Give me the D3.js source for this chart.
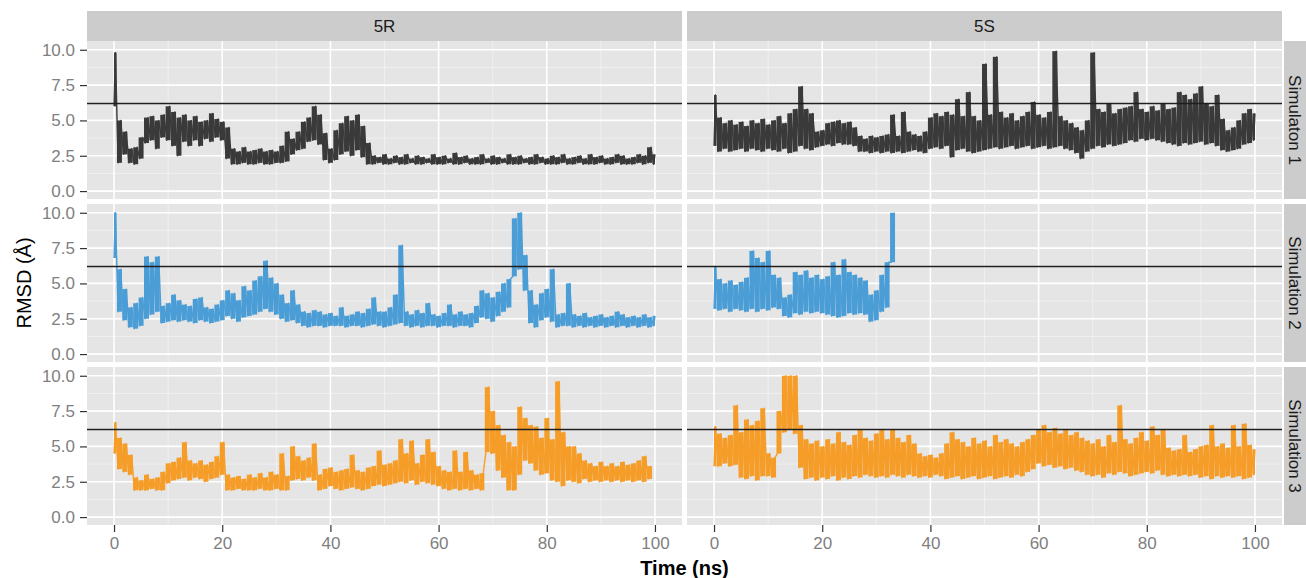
<!DOCTYPE html>
<html>
<head>
<meta charset="utf-8">
<script src="https://cdn.jsdelivr.net/npm/d3@7"></script>
<style>
  body { margin: 0; background: #fff; }
  text { font-family: "Liberation Sans", Arial, sans-serif; }
</style>
</head>
<body>
<script>
// facet labels and axis ticks
var models = ["5R", "5S"];
var sims = ["Simulaton 1", "Simulation 2", "Simulation 3"];
var simColors = ["#3a3a3a", "#4b9dd6", "#f59d28"];
var timeTicks = [0, 20, 40, 60, 80, 100];
var timeMinor = [10, 30, 50, 70, 90];
var rmsdTicks = [0, 2.5, 5, 7.5, 10];
var rmsdMinor = [1.25, 3.75, 6.25, 8.75];
var cutoff = 6.2;

// RMSD: low and high of the trace in each 1 ns step
var r1Lo = [6.0,2.0,2.6,2.0,1.9,2.3,3.4,3.6,3.0,3.8,3.6,3.2,2.5,3.5,3.2,3.6,3.2,3.7,3.5,3.8,3.6,2.3,1.9,1.9,2.0,1.9,1.9,2.0,1.9,1.9,2.0,2.0,2.1,2.6,2.9,3.0,3.5,3.6,3.3,2.2,2.0,2.2,2.6,2.8,2.5,2.9,2.4,1.9,1.9,2.0,1.9,1.9,2.0,1.9,1.9,2.0,1.9,1.9,2.0,1.9,1.9,1.9,2.0,1.9,1.9,2.0,1.9,1.9,1.9,2.0,1.9,1.9,2.0,1.9,1.9,1.9,2.0,1.9,1.9,2.0,1.9,1.9,1.9,2.0,1.9,1.9,2.0,1.9,1.9,1.9,2.0,1.9,1.9,2.0,1.9,1.9,1.9,2.0,1.9,2.0,1.9];
var r1Hi = [9.8,5.0,4.2,3.0,3.1,3.8,5.2,5.3,5.0,5.4,6.0,5.6,5.2,5.4,5.0,5.3,4.9,5.0,5.5,5.1,4.9,4.5,3.0,2.8,3.1,2.8,2.9,3.0,2.8,2.9,2.8,3.2,4.2,3.7,4.2,4.9,5.2,6.0,5.4,4.1,3.0,4.3,4.8,5.3,5.0,5.4,4.6,3.4,2.5,2.4,2.6,2.3,2.5,2.4,2.6,2.3,2.5,2.4,2.3,2.6,2.4,2.5,2.3,2.7,2.4,2.5,2.3,2.4,2.6,2.3,2.5,2.4,2.3,2.6,2.4,2.5,2.3,2.4,2.6,2.4,2.3,2.5,2.4,2.6,2.3,2.4,2.5,2.3,2.6,2.4,2.5,2.3,2.4,2.6,2.5,2.3,2.4,2.6,2.5,3.1,2.6];
var r2Lo = [6.8,3.0,2.4,1.9,1.8,2.0,2.5,2.8,3.0,2.2,2.3,2.4,2.3,2.4,2.3,2.2,2.4,2.3,2.2,2.3,2.4,2.7,2.5,2.3,2.6,2.7,2.8,3.0,3.2,3.0,2.8,2.5,2.3,2.4,2.2,2.0,1.9,2.0,2.0,1.9,2.0,2.0,2.0,1.9,2.0,2.0,1.9,2.0,2.1,2.0,1.9,2.0,2.1,2.2,2.0,1.9,2.0,1.9,2.0,2.0,1.9,2.0,2.0,1.9,2.0,2.0,1.9,2.2,2.6,2.5,2.3,2.7,3.0,3.3,5.5,6.0,4.5,2.2,1.9,2.4,2.6,2.3,1.9,2.0,2.0,1.9,2.0,1.9,2.0,1.9,2.0,1.9,2.0,1.9,2.0,1.9,2.0,1.9,2.0,1.9,2.0];
var r2Hi = [10.0,6.0,4.6,3.3,3.6,4.0,6.9,6.5,6.9,3.4,3.6,4.2,3.8,3.5,3.4,3.9,4.0,3.3,3.2,3.5,3.8,4.5,4.3,3.8,4.8,4.5,5.2,5.5,6.6,5.4,5.0,4.2,3.6,4.5,3.5,3.0,2.9,3.1,3.0,2.8,2.9,2.7,3.3,2.7,2.8,3.0,2.9,3.2,4.0,3.0,3.0,3.3,4.2,7.7,3.0,2.8,3.1,2.9,3.6,2.8,2.7,2.9,3.5,2.8,3.0,2.8,2.9,3.4,4.5,4.3,4.0,4.4,5.0,5.3,9.6,10.0,7.0,4.5,3.5,4.3,4.6,6.0,2.8,2.9,5.0,2.8,2.7,2.9,2.6,2.7,2.8,2.6,2.7,3.0,2.8,2.6,2.7,2.6,2.8,2.6,2.7];
var r3Lo = [4.5,3.4,3.2,3.0,1.9,1.9,1.9,2.0,1.9,1.9,2.4,2.6,2.7,2.8,2.6,2.8,2.7,2.5,2.7,2.8,3.0,1.9,1.9,2.0,1.9,1.9,1.9,2.0,1.9,1.9,2.0,1.9,1.9,2.6,2.7,2.6,2.8,2.6,1.9,2.0,2.2,2.0,1.9,2.0,2.1,2.0,1.9,2.0,2.2,2.3,2.2,2.3,2.4,2.5,2.4,2.6,2.3,2.5,2.4,2.3,2.2,2.0,1.9,2.0,1.9,2.0,1.9,2.0,1.9,4.6,4.5,3.3,2.8,1.9,1.9,3.0,4.0,3.8,3.3,3.0,3.1,2.6,2.5,2.2,2.6,2.5,2.4,2.7,2.5,2.6,2.5,2.6,2.5,2.6,2.5,2.6,2.5,2.6,2.5,2.7];
var r3Hi = [6.7,5.6,5.2,4.4,2.8,2.6,3.0,2.7,2.8,3.2,3.8,3.9,4.2,5.3,4.0,3.8,4.0,3.7,3.9,4.3,5.3,3.0,2.8,2.9,2.7,3.0,2.8,3.1,2.8,3.2,3.0,4.5,2.9,5.0,4.3,4.0,4.2,5.2,3.0,3.4,3.5,3.2,3.3,3.4,4.4,3.3,3.2,3.5,3.6,4.7,3.7,3.8,4.0,5.5,4.5,5.4,3.8,4.4,5.5,4.6,3.6,3.3,3.2,4.7,3.2,4.6,3.3,3.0,3.1,9.2,7.5,6.5,5.8,5.3,5.0,7.8,7.0,6.5,6.4,5.6,7.0,5.5,9.6,6.0,5.0,5.0,4.5,4.0,3.8,3.6,3.9,3.6,3.8,3.6,3.9,3.7,3.8,4.0,4.3,3.6];
var s1Lo = [3.2,2.8,3.0,2.8,2.9,3.0,2.8,3.0,2.9,2.8,3.0,2.9,2.8,3.0,2.7,2.8,3.2,3.0,2.9,3.1,3.2,3.3,3.2,3.4,3.3,3.3,3.2,2.8,2.8,2.7,2.8,2.7,2.8,2.7,2.8,2.7,2.8,2.9,2.8,2.7,3.0,3.1,3.0,3.2,2.4,2.9,3.0,2.8,2.7,2.8,2.9,3.0,3.1,3.0,3.1,3.2,3.0,3.1,3.2,3.0,3.1,3.2,3.0,3.1,3.2,3.0,2.9,2.7,2.3,2.8,3.0,3.2,3.1,3.3,3.2,3.3,3.4,3.6,3.5,3.7,3.6,3.7,3.6,3.5,3.4,3.3,3.2,3.4,3.3,3.4,3.5,3.3,3.4,3.2,2.9,2.8,2.9,3.0,3.3,3.4,3.6];
var s1Hi = [6.8,5.2,4.8,5.0,4.7,4.9,4.6,5.0,4.8,5.1,4.7,5.0,5.3,4.8,5.5,5.8,7.4,5.8,5.5,4.2,4.3,4.8,4.9,5.0,4.8,4.9,4.5,3.9,3.7,3.9,3.8,3.9,4.0,5.4,3.9,5.6,4.2,4.0,3.9,4.2,5.2,5.5,5.3,5.6,5.4,6.5,5.3,7.0,5.3,5.0,9.0,5.4,9.5,5.6,5.2,5.5,5.0,5.3,5.6,6.3,5.4,5.2,5.6,9.9,5.3,5.0,4.8,4.5,4.3,5.0,9.8,5.8,5.6,6.2,5.5,5.8,5.9,6.0,7.0,5.8,5.6,6.0,5.7,6.2,5.8,5.9,7.0,6.8,6.5,6.9,7.4,6.2,6.0,6.8,5.1,4.3,4.5,5.0,5.5,5.8,5.5];
var s2Lo = [3.2,3.1,3.2,3.0,3.2,3.1,3.0,3.2,3.0,3.2,3.1,3.3,3.2,2.7,2.6,2.9,2.8,3.0,2.9,3.0,2.9,2.8,2.7,2.6,2.7,2.9,2.8,2.9,2.8,2.3,2.4,3.0,3.3,6.5];
var s2Hi = [6.2,5.3,5.0,5.2,4.9,5.1,5.4,7.3,6.8,6.5,7.3,5.6,5.4,4.0,4.2,5.8,5.6,5.9,5.4,5.6,5.3,5.5,6.5,5.6,6.7,5.8,5.6,5.4,5.2,4.2,4.5,5.6,6.5,10.0];
var s3Lo = [3.6,3.6,3.8,3.6,3.7,2.8,2.7,2.9,2.6,2.9,2.9,2.8,4.5,6.0,6.2,5.9,3.5,2.7,2.8,2.6,2.8,2.7,2.9,2.6,2.8,2.7,2.9,2.8,3.0,2.9,2.8,2.9,2.8,3.0,2.9,2.8,3.0,2.9,2.8,2.9,2.8,3.0,2.9,2.7,2.8,2.9,2.7,2.8,2.9,2.7,2.8,2.9,2.7,2.8,2.9,2.8,3.0,2.9,3.2,3.4,3.8,3.6,3.7,3.5,3.6,3.4,3.5,3.3,3.2,3.0,2.9,3.0,2.8,3.1,3.0,3.2,3.1,2.9,3.0,3.1,3.2,3.1,3.3,3.0,2.9,3.0,2.9,3.0,2.9,3.0,2.8,2.9,2.7,2.9,2.8,2.9,2.8,2.9,2.7,2.8,3.0];
var s3Hi = [6.4,5.9,5.6,5.8,7.9,6.0,6.9,6.5,6.8,7.7,4.5,4.2,7.5,10.0,10.0,10.0,6.5,5.5,5.2,5.4,5.0,5.5,5.2,6.0,5.3,5.1,5.8,6.2,5.6,5.4,5.9,6.2,5.5,6.2,5.6,5.3,5.8,5.2,4.5,4.3,4.4,4.2,4.5,5.2,6.0,5.5,5.3,5.0,5.6,5.2,5.4,5.0,5.8,5.3,5.5,5.2,5.0,5.3,5.5,5.8,6.2,6.5,6.0,6.3,5.9,6.2,5.8,6.0,5.6,5.4,5.2,5.5,5.0,5.8,5.3,7.9,5.5,5.2,5.6,6.0,5.4,6.4,5.8,6.2,4.9,4.7,4.8,5.8,4.6,4.8,5.0,5.1,6.5,5.0,5.2,4.9,6.5,5.0,6.6,5.1,4.8];

var panels = [
  {col: 0, row: 0, lo: r1Lo, hi: r1Hi},
  {col: 0, row: 1, lo: r2Lo, hi: r2Hi},
  {col: 0, row: 2, lo: r3Lo, hi: r3Hi},
  {col: 1, row: 0, lo: s1Lo, hi: s1Hi},
  {col: 1, row: 1, lo: s2Lo, hi: s2Hi},
  {col: 1, row: 2, lo: s3Lo, hi: s3Hi}
];

var svg = d3.select("body").append("svg").attr("width", 1306).attr("height", 578);

var plotLeft = 87, plotTop = 41, stripH = 30;
var panelW = 595, panelH = 158, gapX = 5, gapY = 5;
function colX(c) { return plotLeft + c * (panelW + gapX); }
function rowY(r) { return plotTop + r * (panelH + gapY); }

var x = d3.scaleLinear().domain([-5, 105]).range([0, panelW]);
var y = d3.scaleLinear().domain([-0.56, 10.62]).range([panelH, 0]);

var line = d3.line().x(function(d) { return x(d.t); }).y(function(d) { return y(d.v); });

// panel backgrounds and grid
panels.forEach(function(p) {
  var g = svg.append("g").attr("transform", "translate(" + colX(p.col) + "," + rowY(p.row) + ")");
  g.append("rect").attr("width", panelW).attr("height", panelH).attr("fill", "#e5e5e5");

  g.selectAll(".ymin").data(rmsdMinor).enter().append("line")
    .attr("x1", 0).attr("x2", panelW).attr("y1", y).attr("y2", y)
    .attr("stroke", "#f2f2f2").attr("stroke-width", 0.8);
  g.selectAll(".xmin").data(timeMinor).enter().append("line")
    .attr("y1", 0).attr("y2", panelH).attr("x1", x).attr("x2", x)
    .attr("stroke", "#f2f2f2").attr("stroke-width", 0.8);
  g.selectAll(".ymaj").data(rmsdTicks).enter().append("line")
    .attr("x1", 0).attr("x2", panelW).attr("y1", y).attr("y2", y)
    .attr("stroke", "#fff").attr("stroke-width", 1.6);
  g.selectAll(".xmaj").data(timeTicks).enter().append("line")
    .attr("y1", 0).attr("y2", panelH).attr("x1", x).attr("x2", x)
    .attr("stroke", "#fff").attr("stroke-width", 1.6);

  var col = simColors[p.row];

  // range covered in each ns step
  g.selectAll(".step").data(p.lo).enter().append("rect")
    .attr("x", function(d, i) { return x(Math.max(0, i - 0.46)); })
    .attr("width", function(d, i) { return x(Math.min(100, i + 0.46)) - x(Math.max(0, i - 0.46)); })
    .attr("y", function(d, i) { return y(p.hi[i]); })
    .attr("height", function(d, i) { return y(d) - y(p.hi[i]); })
    .attr("fill", col);

  // trace: alternate low and high of each step
  var pts = [];
  p.lo.forEach(function(v, i) {
    pts.push({t: Math.max(0, i - 0.25), v: v});
    pts.push({t: Math.min(100, i + 0.25), v: p.hi[i]});
  });
  g.append("path").datum(pts)
    .attr("d", line)
    .attr("fill", "none")
    .attr("stroke", col)
    .attr("stroke-width", 1.4)
    .attr("stroke-linejoin", "round");

  g.append("line")
    .attr("x1", 0).attr("x2", panelW)
    .attr("y1", y(cutoff)).attr("y2", y(cutoff))
    .attr("stroke", "#1f1f1f").attr("stroke-width", 1.6);
});

// top strips
models.forEach(function(m, c) {
  svg.append("rect").attr("x", colX(c)).attr("y", plotTop - stripH)
    .attr("width", panelW).attr("height", stripH).attr("fill", "#cccccc");
  svg.append("text").attr("x", colX(c) + panelW / 2).attr("y", plotTop - stripH / 2)
    .attr("dy", "0.36em").attr("text-anchor", "middle")
    .attr("font-size", 17).attr("fill", "#1a1a1a").text(m);
});

// right strips
sims.forEach(function(s, r) {
  var sx = colX(1) + panelW + 2;
  svg.append("rect").attr("x", sx).attr("y", rowY(r))
    .attr("width", 30).attr("height", panelH).attr("fill", "#cccccc");
  svg.append("text")
    .attr("transform", "translate(" + (sx + 11) + "," + (rowY(r) + panelH / 2) + ") rotate(90)")
    .attr("dy", "0.36em").attr("text-anchor", "middle")
    .attr("font-size", 17).attr("fill", "#1a1a1a").text(s);
});

// y axes
sims.forEach(function(s, r) {
  var ax = svg.append("g").attr("transform", "translate(" + plotLeft + "," + rowY(r) + ")")
    .call(d3.axisLeft(y).tickValues(rmsdTicks).tickFormat(d3.format(".1f")).tickSize(7).tickPadding(5));
  ax.select(".domain").remove();
  ax.selectAll(".tick line").attr("stroke", "#333").attr("stroke-width", 1.2);
  ax.selectAll(".tick text").attr("font-size", 17).attr("fill", "#7f7f7f")
    .attr("font-family", "Liberation Sans, Arial, sans-serif");
});

// x axes
models.forEach(function(m, c) {
  var ax = svg.append("g").attr("transform", "translate(" + colX(c) + "," + (rowY(2) + panelH) + ")")
    .call(d3.axisBottom(x).tickValues(timeTicks).tickSize(7).tickPadding(5));
  ax.select(".domain").remove();
  ax.selectAll(".tick line").attr("stroke", "#333").attr("stroke-width", 1.2);
  ax.selectAll(".tick text").attr("font-size", 17).attr("fill", "#7f7f7f")
    .attr("font-family", "Liberation Sans, Arial, sans-serif");
});

// axis titles
svg.append("text").attr("x", plotLeft + panelW + gapX / 2).attr("y", 575)
  .attr("text-anchor", "middle").attr("font-size", 20).attr("font-weight", "bold")
  .attr("fill", "#000").text("Time (ns)");
svg.append("text")
  .attr("transform", "translate(31," + (plotTop + (3 * panelH + 2 * gapY) / 2) + ") rotate(-90)")
  .attr("text-anchor", "middle").attr("font-size", 20)
  .attr("fill", "#000").text("RMSD (Å)");
</script>
</body>
</html>
